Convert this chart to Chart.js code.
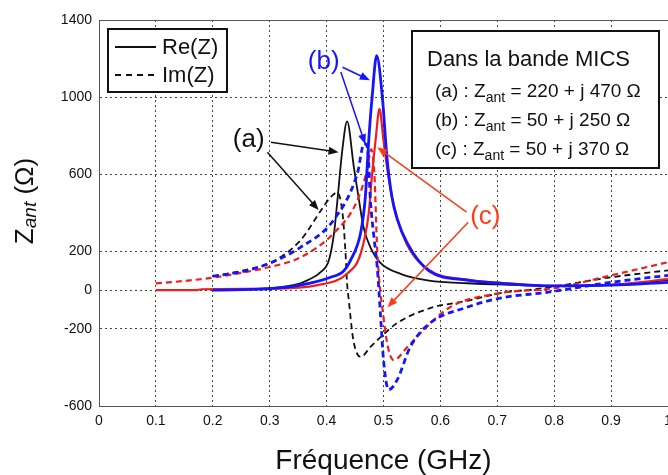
<!DOCTYPE html>
<html lang="fr">
<head>
  <meta charset="UTF-8" />
  <title>Impédance d'antenne</title>
  <style>
    html, body {
      margin: 0;
      padding: 0;
      background: #fff;
    }
    canvas {
      display: block;
    }
  </style>
</head>
<body>

<canvas id="zChart" width="668" height="475"></canvas>

<script src="https://cdn.jsdelivr.net/npm/chart.js"></script>
<script>
  // axis ticks
  const xTicks = [0, 0.1, 0.2, 0.3, 0.4, 0.5, 0.6, 0.7, 0.8, 0.9, 1];
  const yTicks = [1400, 1000, 600, 200, 0, -200, -600];

  // (a) - black
  const freqReA = [0.2, 0.25, 0.3, 0.354, 0.367, 0.39, 0.404, 0.413, 0.419, 0.4275, 0.436, 0.448, 0.457, 0.465, 0.477, 0.495, 0.53, 0.58, 0.647, 0.7, 0.8, 0.9, 1.0];
  const reA     = [0, 5, 10, 36, 52, 95, 155, 294, 465, 723, 875, 635, 465, 325, 222, 140, 85, 50, 36, 30, 22, 28, 52];
  const freqImA = [0.2, 0.25, 0.3, 0.354, 0.39, 0.405, 0.419, 0.428, 0.433, 0.436, 0.439, 0.447, 0.46, 0.477, 0.495, 0.524, 0.582, 0.647, 0.705, 0.78, 0.9, 1.0];
  const imA     = [72, 100, 140, 258, 413, 475, 506, 398, 206, 36, -52, -258, -346, -294, -243, -170, -93, -55, -15, 10, 67, 103];

  // (b) - blue
  const freqReB = [0.2, 0.3, 0.354, 0.407, 0.43, 0.442, 0.46, 0.468, 0.474, 0.48, 0.488, 0.498, 0.506, 0.515, 0.524, 0.542, 0.58, 0.647, 0.705, 0.8, 0.9, 1.0];
  const reB     = [0, 8, 26, 67, 100, 155, 300, 480, 775, 1000, 1215, 1000, 690, 480, 370, 243, 100, 52, 36, 22, 26, 41];
  const freqImB = [0.2, 0.25, 0.3, 0.354, 0.412, 0.454, 0.466, 0.472, 0.477, 0.483, 0.489, 0.495, 0.5, 0.509, 0.524, 0.547, 0.582, 0.647, 0.705, 0.79, 0.9, 1.0];
  const imB     = [73, 95, 140, 222, 362, 604, 760, 740, 465, 280, 120, -140, -362, -516, -465, -294, -170, -88, -41, -10, 41, 77];

  // (c) - red
  const freqReC = [0.1, 0.17, 0.18, 0.3, 0.384, 0.437, 0.46, 0.474, 0.48, 0.486, 0.493, 0.5, 0.508, 0.518, 0.54, 0.58, 0.647, 0.705, 0.8, 0.9, 1.0];
  const reC     = [0, 0, 5, 8, 26, 88, 191, 398, 604, 775, 940, 775, 600, 440, 245, 105, 55, 38, 22, 28, 57];
  const freqImC = [0.1, 0.15, 0.2, 0.25, 0.3, 0.354, 0.412, 0.454, 0.472, 0.478, 0.484, 0.489, 0.5, 0.509, 0.518, 0.542, 0.565, 0.617, 0.705, 0.8, 0.9, 1.0];
  const imC     = [35, 48, 65, 90, 120, 170, 294, 465, 635, 730, 600, 206, -140, -310, -362, -294, -222, -88, -15, 10, 77, 145];

  const BLACK = '#111';
  const BLUE = '#1414ff';
  const RED = '#f01e1e';
  const ORANGE = '#ff3c14';
  const FONT = "'Liberation Sans', Arial, sans-serif";

  const infoTitle = 'Dans la bande MICS';
  const infoLines = [
    ['(a) : Z', 'ant', ' = 220 + j 470 Ω'],
    ['(b) : Z', 'ant', ' = 50 + j 250 Ω'],
    ['(c) : Z', 'ant', ' = 50 + j 370 Ω']
  ];
  const legendItems = [
    { text: 'Re(Z)', dashed: false },
    { text: 'Im(Z)', dashed: true }
  ];

  // label position and arrows [x0, y0, x1, y1] in data units
  const callouts = [
    { text: '(a)', color: BLACK, at: [0.263, 777], arrows: [[0.302, 767, 0.421, 715], [0.296, 715, 0.386, 415]] },
    { text: '(b)', color: BLUE, at: [0.395, 1181], arrows: [[0.428, 1155, 0.476, 1088], [0.425, 1130, 0.468, 756]] },
    { text: '(c)', color: ORANGE, at: [0.679, 378], arrows: [[0.646, 404, 0.489, 741], [0.649, 352, 0.507, -88]] }
  ];

  function pts(xs, ys) {
    return xs.map((x, i) => ({ x: x, y: ys[i] }));
  }

  function series(label, xs, ys, color, width, dashed) {
    return {
      label: label,
      data: pts(xs, ys),
      borderColor: color,
      borderWidth: width,
      borderDash: dashed ? [6, 4] : [],
      pointRadius: 0,
      fill: false,
      cubicInterpolationMode: 'monotone'
    };
  }

  // draw "Z" + subscript "ant" + rest
  function drawSub(ctx, parts, x, y, size, subSize) {
    ctx.font = size + 'px ' + FONT;
    ctx.fillText(parts[0], x, y);
    x += ctx.measureText(parts[0]).width;
    ctx.font = subSize + 'px ' + FONT;
    ctx.fillText(parts[1], x, y + subSize * 0.35);
    x += ctx.measureText(parts[1]).width;
    ctx.font = size + 'px ' + FONT;
    ctx.fillText(parts[2], x, y);
  }

  function arrow(ctx, x0, y0, x1, y1, color) {
    const a = Math.atan2(y1 - y0, x1 - x0);
    const len = 10, half = 4;
    ctx.strokeStyle = color;
    ctx.fillStyle = color;
    ctx.lineWidth = 1.5;
    ctx.beginPath();
    ctx.moveTo(x0, y0);
    ctx.lineTo(x1 - Math.cos(a) * len * 0.8, y1 - Math.sin(a) * len * 0.8);
    ctx.stroke();
    ctx.beginPath();
    ctx.moveTo(x1, y1);
    ctx.lineTo(x1 - Math.cos(a) * len - Math.sin(a) * half, y1 - Math.sin(a) * len + Math.cos(a) * half);
    ctx.lineTo(x1 - Math.cos(a) * len + Math.sin(a) * half, y1 - Math.sin(a) * len - Math.cos(a) * half);
    ctx.closePath();
    ctx.fill();
  }

  const decorations = {
    id: 'decorations',
    afterDraw(chart) {
      const ctx = chart.ctx;
      const area = chart.chartArea;
      const xs = chart.scales.x, ys = chart.scales.y;
      ctx.save();

      // top frame line
      ctx.strokeStyle = '#555';
      ctx.lineWidth = 1;
      ctx.beginPath();
      ctx.moveTo(area.left, area.top + 0.5);
      ctx.lineTo(area.right, area.top + 0.5);
      ctx.stroke();

      // legend box
      ctx.fillStyle = '#fff';
      ctx.fillRect(108, 29, 119, 63);
      ctx.strokeStyle = BLACK;
      ctx.lineWidth = 2;
      ctx.strokeRect(108, 29, 119, 63);
      ctx.textBaseline = 'middle';
      ctx.textAlign = 'left';
      legendItems.forEach((item, i) => {
        const y = 47 + i * 28;
        ctx.strokeStyle = BLACK;
        ctx.lineWidth = 1.8;
        ctx.setLineDash(item.dashed ? [6, 5] : []);
        ctx.beginPath();
        ctx.moveTo(115, y);
        ctx.lineTo(156, y);
        ctx.stroke();
        ctx.setLineDash([]);
        ctx.fillStyle = BLACK;
        ctx.font = '22px ' + FONT;
        ctx.fillText(item.text, 162, y + 1);
      });

      // info box
      ctx.fillStyle = '#fff';
      ctx.fillRect(412, 31, 247, 137);
      ctx.strokeStyle = BLACK;
      ctx.lineWidth = 2;
      ctx.strokeRect(412, 31, 247, 137);
      ctx.fillStyle = BLACK;
      ctx.textBaseline = 'alphabetic';
      ctx.font = '22px ' + FONT;
      ctx.fillText(infoTitle, 427, 66);
      infoLines.forEach((parts, i) => {
        drawSub(ctx, parts, 435, 97 + i * 29, 19, 14);
      });

      // callouts
      callouts.forEach(c => {
        ctx.fillStyle = c.color;
        ctx.font = '26px ' + FONT;
        ctx.textAlign = 'center';
        ctx.textBaseline = 'middle';
        ctx.fillText(c.text, xs.getPixelForValue(c.at[0]), ys.getPixelForValue(c.at[1]));
        c.arrows.forEach(a => {
          arrow(ctx, xs.getPixelForValue(a[0]), ys.getPixelForValue(a[1]),
                xs.getPixelForValue(a[2]), ys.getPixelForValue(a[3]), c.color);
        });
      });

      // y axis title, rotated
      ctx.translate(24, 201);
      ctx.rotate(-Math.PI / 2);
      ctx.fillStyle = BLACK;
      ctx.textAlign = 'left';
      ctx.textBaseline = 'alphabetic';
      ctx.font = '26px ' + FONT;
      const w1 = ctx.measureText('Z').width;
      const w3 = ctx.measureText(' (Ω)').width;
      ctx.font = 'italic 19px ' + FONT;
      const w2 = ctx.measureText('ant').width;
      let x = -(w1 + w2 + w3) / 2;
      ctx.font = '26px ' + FONT;
      ctx.fillText('Z', x, 9);
      x += w1;
      ctx.font = 'italic 19px ' + FONT;
      ctx.fillText('ant', x, 12);
      x += w2;
      ctx.font = '26px ' + FONT;
      ctx.fillText(' (Ω)', x, 9);

      ctx.restore();
    }
  };

  Chart.defaults.font.family = FONT;
  Chart.defaults.color = BLACK;

  const ctx = document.getElementById('zChart').getContext('2d');
  new Chart(ctx, {
    type: 'line',
    data: {
      datasets: [
        series('Re(Z) (b)', freqReB, reB, BLUE, 2.8, false),
        series('Im(Z) (b)', freqImB, imB, BLUE, 2.8, true),
        series('Re(Z) (c)', freqReC, reC, RED, 2.2, false),
        series('Im(Z) (c)', freqImC, imC, RED, 2.2, true),
        series('Re(Z) (a)', freqReA, reA, BLACK, 1.8, false),
        series('Im(Z) (a)', freqImA, imA, BLACK, 1.8, true)
      ]
    },
    options: {
      responsive: false,
      animation: false,
      layout: { padding: { top: 20, right: 0, bottom: 0, left: 0 } },
      plugins: {
        legend: { display: false },
        tooltip: { enabled: false }
      },
      scales: {
        x: {
          type: 'linear',
          min: 0,
          max: 1,
          afterBuildTicks: scale => { scale.ticks = xTicks.map(v => ({ value: v })); },
          afterFit: scale => { scale.height = 69; scale.paddingLeft = 0; scale.paddingRight = 0; },
          ticks: {
            autoSkip: false,
            maxRotation: 0,
            padding: 7,
            font: { size: 14 },
            callback: v => String(v)
          },
          grid: { color: '#444', lineWidth: 1, drawTicks: false },
          border: { color: '#555', width: 1, dash: [2, 3] },
          title: {
            display: true,
            text: 'Fréquence (GHz)',
            font: { size: 28, lineHeight: 1 },
            padding: { top: 0, bottom: 0 }
          }
        },
        y: {
          type: 'linear',
          min: -600,
          max: 1400,
          afterBuildTicks: scale => { scale.ticks = yTicks.map(v => ({ value: v })); },
          afterFit: scale => { scale.width = 99; },
          ticks: {
            autoSkip: false,
            padding: 7,
            font: { size: 14 },
            callback: v => String(v)
          },
          grid: { color: '#444', lineWidth: 1, drawTicks: false },
          border: { color: '#555', width: 1, dash: [2, 3] }
        }
      }
    },
    plugins: [decorations]
  });
</script>
</body>
</html>
